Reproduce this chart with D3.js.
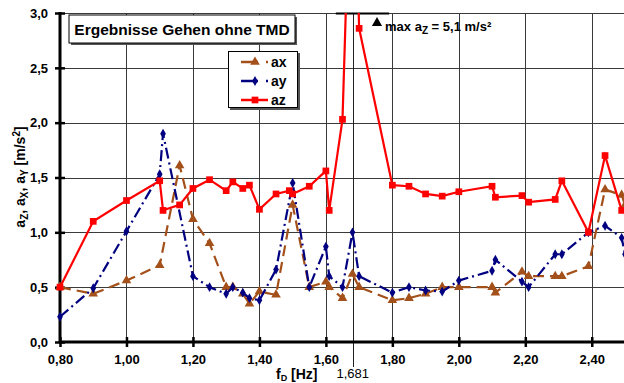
<!DOCTYPE html>
<html>
<head>
<meta charset="utf-8">
<script src="https://cdn.jsdelivr.net/npm/d3@7"></script>
<style>
  body { margin: 0; background: #fff; }
  svg { display: block; font-family: Arial, "Liberation Sans", sans-serif; }
</style>
</head>
<body>
<div id="main"></div>
<script>
'use strict';

// frequencies f_D [Hz] and accelerations [m/s²]
var fX = [0.80, 0.90, 1.00, 1.10, 1.16, 1.20, 1.25, 1.30, 1.32, 1.35, 1.37, 1.40, 1.45, 1.50, 1.55, 1.60, 1.61, 1.65, 1.68, 1.70,
          1.80, 1.85, 1.90, 1.95, 2.00, 2.10, 2.11, 2.19, 2.21, 2.29, 2.31, 2.39, 2.44, 2.49, 2.50];
var ax = [0.50, 0.44, 0.56, 0.70, 1.61, 1.12, 0.90, 0.50, 0.50, 0.44, 0.35, 0.46, 0.43, 1.25, 0.50, 0.55, 0.50, 0.40, 0.62, 0.50,
          0.38, 0.40, 0.44, 0.50, 0.50, 0.50, 0.45, 0.64, 0.60, 0.60, 0.60, 0.69, 1.39, 1.34, 1.25];

var fY = [0.80, 0.90, 1.00, 1.10, 1.11, 1.20, 1.25, 1.30, 1.32, 1.35, 1.37, 1.40, 1.45, 1.50, 1.55, 1.60, 1.61, 1.65, 1.68, 1.70,
          1.80, 1.85, 1.90, 1.95, 2.00, 2.10, 2.11, 2.19, 2.21, 2.29, 2.31, 2.39, 2.44, 2.49, 2.50];
var ay = [0.23, 0.49, 1.01, 1.53, 1.90, 0.60, 0.50, 0.44, 0.50, 0.45, 0.40, 0.38, 0.66, 1.45, 0.50, 0.87, 0.60, 0.50, 1.00, 0.60,
          0.45, 0.50, 0.47, 0.46, 0.56, 0.65, 0.75, 0.55, 0.50, 0.80, 0.80, 1.00, 1.06, 0.95, 0.80];

var fZ = [0.80, 0.90, 1.00, 1.10, 1.11, 1.16, 1.20, 1.25, 1.30, 1.32, 1.35, 1.37, 1.40, 1.45, 1.49, 1.50, 1.55, 1.60, 1.61, 1.65,
          1.681, 1.70, 1.80, 1.85, 1.90, 1.95, 2.00, 2.10, 2.11, 2.19, 2.21, 2.29, 2.31, 2.39, 2.44, 2.49];
var az = [0.50, 1.10, 1.29, 1.47, 1.20, 1.25, 1.40, 1.48, 1.38, 1.46, 1.40, 1.43, 1.21, 1.35, 1.38, 1.35, 1.42, 1.56, 1.20, 2.03,
          5.10, 2.86, 1.43, 1.42, 1.35, 1.33, 1.37, 1.42, 1.32, 1.335, 1.275, 1.30, 1.47, 1.00, 1.70, 1.20];

var xTicks = [0.8, 1.0, 1.2, 1.4, 1.6, 1.8, 2.0, 2.2, 2.4];
var yTicks = [0, 0.5, 1.0, 1.5, 2.0, 2.5, 3.0];
var fMark = 1.681;          // resonance marker
var azMax = '5,1';

var width = 624, height = 383;
var pLeft = 60, pRight = 625, pTop = 13, pBottom = 342;

var svg = d3.select('#main').append('svg')
  .attr('width', width).attr('height', height);

var x = d3.scaleLinear().domain([0.8, 2.5]).range([pLeft, pRight]);
var y = d3.scaleLinear().domain([0, 3]).range([pBottom, pTop]);
var comma = function(d, n) { return d.toFixed(n).replace('.', ','); };

svg.append('clipPath').attr('id', 'plot')
  .append('rect').attr('x', pLeft - 8).attr('y', pTop).attr('width', pRight - pLeft + 16).attr('height', pBottom - pTop + 8);

// grid
var grid = svg.append('g').attr('stroke', '#3a3a3a').attr('stroke-width', 1);
grid.selectAll('.v').data(xTicks.slice(1)).enter().append('line')
  .attr('x1', function(d) { return Math.round(x(d)) + 0.5; })
  .attr('x2', function(d) { return Math.round(x(d)) + 0.5; })
  .attr('y1', pTop).attr('y2', pBottom);
grid.selectAll('.h').data(yTicks.slice(1)).enter().append('line')
  .attr('x1', pLeft).attr('x2', pRight)
  .attr('y1', function(d) { return Math.round(y(d)) + 0.5; })
  .attr('y2', function(d) { return Math.round(y(d)) + 0.5; });

// marker line at 1,681 Hz, goes down to its label
svg.append('line')
  .attr('x1', Math.round(x(fMark)) + 0.5).attr('x2', Math.round(x(fMark)) + 0.5)
  .attr('y1', pTop).attr('y2', 367)
  .attr('stroke', '#222').attr('stroke-width', 1);
svg.append('line')
  .attr('x1', x(1.66) - 10).attr('x2', x(1.70) + 30)
  .attr('y1', pTop + 0.5).attr('y2', pTop + 0.5)
  .attr('stroke', '#000').attr('stroke-width', 2);

// axes
var yAxis = d3.axisLeft(y).tickValues(yTicks).tickSize(5).tickPadding(7)
  .tickFormat(function(d) { return comma(d, 1); });
var gy = svg.append('g').attr('transform', 'translate(' + pLeft + ',0)').call(yAxis);
gy.select('.domain').remove();
gy.selectAll('.tick line').attr('x1', 5).attr('stroke-width', 2.5);
gy.selectAll('text').attr('font-size', 13).attr('font-weight', 'bold').attr('fill', '#000');
gy.attr('font-family', null);
svg.append('line').attr('x1', pLeft).attr('x2', pLeft).attr('y1', pTop - 1).attr('y2', pBottom + 1)
  .attr('stroke', '#000').attr('stroke-width', 3);

var xAxis = d3.axisBottom(x).tickValues(xTicks).tickSize(5).tickPadding(8)
  .tickFormat(function(d) { return comma(d, 2); });
var gx = svg.append('g').attr('transform', 'translate(0,' + pBottom + ')').call(xAxis);
gx.select('.domain').remove();
gx.selectAll('.tick line').attr('y1', -5).attr('stroke-width', 2.5);
gx.selectAll('text').attr('font-size', 13).attr('font-weight', 'bold').attr('fill', '#000');
gx.attr('font-family', null);
svg.append('line').attr('x1', pLeft - 1).attr('x2', pRight).attr('y1', pBottom).attr('y2', pBottom)
  .attr('stroke', '#000').attr('stroke-width', 3);

// series
var series = [
  { name: 'ax', f: fX, a: ax, color: '#a3501a', dash: '11,6', shape: d3.symbolTriangle, size: 40 },
  { name: 'ay', f: fY, a: ay, color: '#000080', dash: '11,4,2,4', shape: d3.symbolDiamond, size: 28 },
  { name: 'az', f: fZ, a: az, color: '#ff0000', dash: null, shape: d3.symbolSquare, size: 45 }
];

var line = d3.line()
  .x(function(d) { return x(d[0]); })
  .y(function(d) { return y(d[1]); });

var plot = svg.append('g').attr('clip-path', 'url(#plot)');
series.forEach(function(s) {
  var pts = d3.zip(s.f, s.a);
  plot.append('path').datum(pts)
    .attr('d', line)
    .attr('fill', 'none')
    .attr('stroke', s.color)
    .attr('stroke-width', 2.2)
    .attr('stroke-dasharray', s.dash);
  plot.selectAll('.m-' + s.name).data(pts).enter().append('path')
    .attr('d', d3.symbol().type(s.shape).size(s.size))
    .attr('transform', function(d) { return 'translate(' + x(d[0]) + ',' + y(d[1]) + ')'; })
    .attr('fill', s.color);
});

// title box
svg.append('rect').attr('x', 71).attr('y', 17).attr('width', 226).attr('height', 28).attr('fill', '#555');
svg.append('rect').attr('x', 69).attr('y', 15).attr('width', 226).attr('height', 28)
  .attr('fill', '#fff').attr('stroke', '#000').attr('stroke-width', 1);
svg.append('text').attr('x', 182).attr('y', 35).attr('text-anchor', 'middle')
  .attr('font-size', 15.5).attr('font-weight', 'bold').text('Ergebnisse Gehen ohne TMD');

// legend
var lg = svg.append('g');
lg.append('rect').attr('x', 230).attr('y', 53).attr('width', 70).attr('height', 57).attr('fill', '#555');
lg.append('rect').attr('x', 228.5).attr('y', 51.5).attr('width', 69).attr('height', 56)
  .attr('fill', '#fff').attr('stroke', '#000').attr('stroke-width', 1);
series.forEach(function(s, i) {
  var ly = 62 + i * 19;
  lg.append('line').attr('x1', 241).attr('x2', 268).attr('y1', ly).attr('y2', ly)
    .attr('stroke', s.color).attr('stroke-width', 2.5).attr('stroke-dasharray', s.dash ? '17,8' : null);
  lg.append('path')
    .attr('d', d3.symbol().type(s.shape).size(s.size))
    .attr('transform', 'translate(255,' + ly + ')')
    .attr('fill', s.color);
  lg.append('text').attr('x', 271).attr('y', ly + 5)
    .attr('font-size', 14).attr('font-weight', 'bold').text(s.name);
});

// max annotation
svg.append('path')
  .attr('d', d3.symbol().type(d3.symbolTriangle).size(45))
  .attr('transform', 'translate(377,23)');
var ann = svg.append('text').attr('x', 385).attr('y', 31)
  .attr('font-size', 13).attr('font-weight', 'bold');
ann.append('tspan').text('max a');
ann.append('tspan').attr('font-size', 10).attr('dy', 3).text('Z');
ann.append('tspan').attr('dy', -3).text(' = ' + azMax + ' m/s²');

// axis titles
var yt = svg.append('text')
  .attr('transform', 'translate(25,177) rotate(-90)')
  .attr('text-anchor', 'middle')
  .attr('font-size', 14).attr('font-weight', 'bold');
yt.append('tspan').text('a');
yt.append('tspan').attr('font-size', 10).attr('dy', 3).text('Z');
yt.append('tspan').attr('dy', -3).text(', a');
yt.append('tspan').attr('font-size', 10).attr('dy', 3).text('X');
yt.append('tspan').attr('dy', -3).text(', a');
yt.append('tspan').attr('font-size', 10).attr('dy', 3).text('Y');
yt.append('tspan').attr('dy', -3).text(' [m/s');
yt.append('tspan').attr('font-size', 10).attr('dy', -5).text('2');
yt.append('tspan').attr('dy', 5).text(']');

var xt = svg.append('text').attr('x', 276).attr('y', 379)
  .attr('font-size', 14).attr('font-weight', 'bold');
xt.append('tspan').text('f');
xt.append('tspan').attr('font-size', 9).attr('dy', 2).text('D');
xt.append('tspan').attr('dy', -2).text(' [Hz]');

svg.append('text').attr('x', x(fMark)).attr('y', 378).attr('text-anchor', 'middle')
  .attr('font-size', 13).text(comma(fMark, 3));
</script>
</body>
</html>
